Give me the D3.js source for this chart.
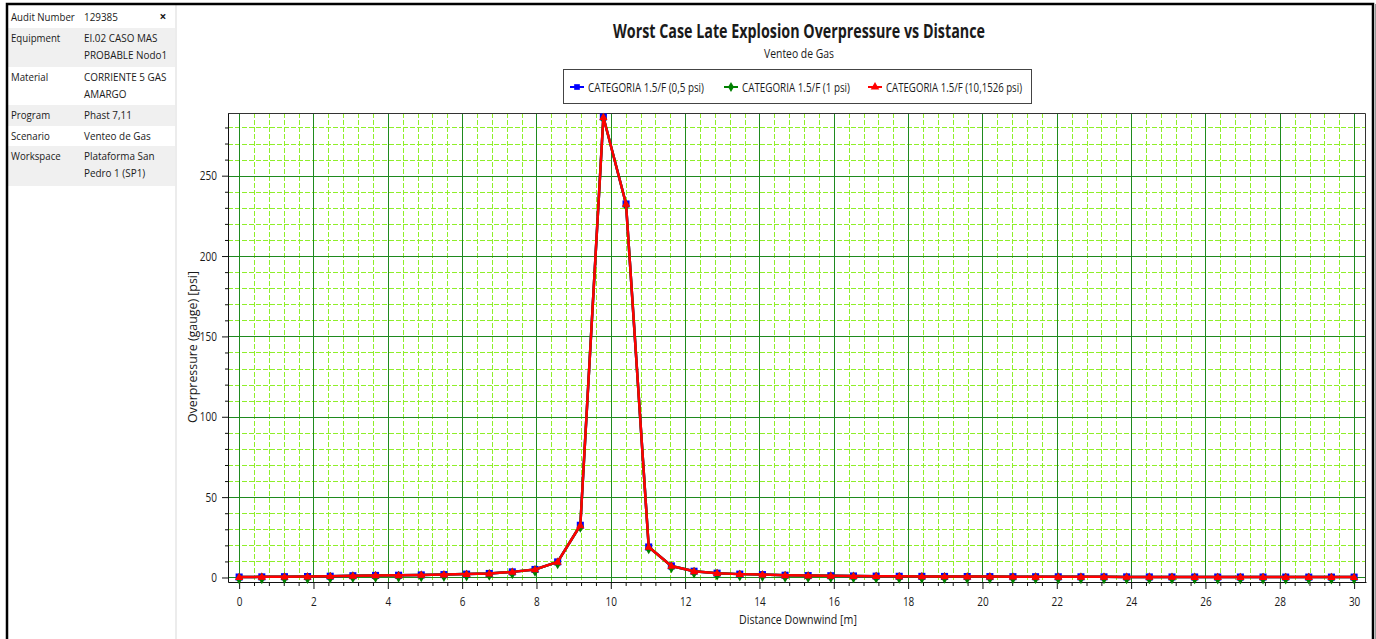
<!DOCTYPE html>
<html><head><meta charset="utf-8">
<script src="https://cdn.jsdelivr.net/npm/d3@7"></script>
<style>
body{margin:0;background:#fff;overflow:hidden}
svg{display:block}
text{font-family:"Open Sans","Noto Sans",sans-serif;fill:#1a1a1a}
</style>
</head><body>
<svg id="c" width="1376" height="639"></svg>
<script>
// ---- data ----
const infoLabels = ["Audit Number","Equipment","Material","Program","Scenario","Workspace"];
const infoValues = [["129385"],["EI.02 CASO MAS","PROBABLE Nodo1"],["CORRIENTE 5 GAS","AMARGO"],["Phast 7,11"],["Venteo de Gas"],["Plataforma San","Pedro 1 (SP1)"]];
const titleText = "Worst Case Late Explosion Overpressure vs Distance";
const subtitleText = "Venteo de Gas";
const seriesNames = ["CATEGORIA 1.5/F (0,5 psi)","CATEGORIA 1.5/F (1 psi)","CATEGORIA 1.5/F (10,1526 psi)"];
const distances = [0,0.61,1.22,1.84,2.45,3.06,3.67,4.29,4.90,5.51,6.12,6.73,7.35,7.96,8.57,9.18,9.80,10.41,11.02,11.63,12.24,12.86,13.47,14.08,14.69,15.31,15.92,16.53,17.14,17.76,18.37,18.98,19.59,20.20,20.82,21.43,22.04,22.65,23.27,23.88,24.49,25.10,25.71,26.33,26.94,27.55,28.16,28.78,29.39,30.00];
const overpressureHalfPsi = [0.3,0.4,0.5,0.6,0.8,1.1,1.3,1.4,1.6,1.8,2.1,2.5,3.5,5.0,9.7,32.5,286.5,232.4,19.0,7.2,3.9,2.7,2.1,1.8,1.4,1.2,1.1,0.95,0.85,0.75,0.7,0.65,0.6,0.55,0.5,0.48,0.45,0.42,0.4,0.38,0.36,0.34,0.32,0.3,0.29,0.28,0.27,0.26,0.25,0.24];
const overpressureOnePsi = overpressureHalfPsi;
const overpressureTenPsi = overpressureHalfPsi;
const xMajorTicks = [0,2,4,6,8,10,12,14,16,18,20,22,24,26,28,30];
const yMajorTicks = [0,50,100,150,200,250];
const xTitle = "Distance Downwind [m]";
const yTitle = "Overpressure (gauge) [psi]";

// ---- setup ----
const svg = d3.select("#c");
const W = 1376, H = 639;
const plot = {left:228, top:113, right:1366, bottom:582};
const x = d3.scaleLinear().domain([-0.3, 30.32]).range([plot.left, plot.right]);
const y = d3.scaleLinear().domain([-2.8, 289]).range([plot.bottom, plot.top]);
const xMinor = d3.range(0, 30.01, 0.4).filter(v => Math.abs(v/2 - Math.round(v/2)) > 1e-6);
const yMinor = d3.range(0, 289, 10).filter(v => v % 50 !== 0);
const px = v => Math.round(v) + 0.5;

function condense(sel, factor){
  sel.each(function(){
    const len = this.getComputedTextLength();
    d3.select(this).attr("textLength", len*factor).attr("lengthAdjust","spacingAndGlyphs");
  });
}
function fitWidth(sel, w){
  sel.attr("textLength", w).attr("lengthAdjust","spacingAndGlyphs");
}

// ---- outer frame ----
svg.append("rect").attr("x",0).attr("y",0).attr("width",W).attr("height",H).attr("fill","#fff");
svg.append("line").attr("x1",176).attr("x2",176).attr("y1",5).attr("y2",H).attr("stroke","#ececec").attr("stroke-width",2);

// ---- info panel ----
const panel = svg.append("g");
const rowTops = [7, 28, 67, 105, 126, 146];
const rowHeights = [21, 39, 38, 21, 20, 40];
infoLabels.forEach((lab,i)=>{
  if (i % 2 === 1) {
    panel.append("rect").attr("x",8).attr("y",rowTops[i]).attr("width",167).attr("height",rowHeights[i]).attr("fill","#f0f0f0");
  }
  panel.append("text").attr("x",11).attr("y",rowTops[i]+14).attr("font-size",11.5).text(lab).call(condense,0.84);
  infoValues[i].forEach((v,j)=>{
    panel.append("text").attr("x",84).attr("y",rowTops[i]+14+j*17).attr("font-size",11.5).text(v).call(condense,0.86);
  });
});
panel.append("text").attr("x",163).attr("y",21).attr("font-size",12).attr("font-weight","bold").attr("text-anchor","middle").text("×");

// border
svg.append("path").attr("d",`M7,${H} V4 H1373 V${H}`).attr("fill","none").attr("stroke","#000").attr("stroke-width",2.5);
svg.append("line").attr("x1",1375.5).attr("x2",1375.5).attr("y1",4).attr("y2",H).attr("stroke","#999").attr("stroke-width",1);

// ---- titles ----
svg.append("text").attr("x",799).attr("y",38).attr("text-anchor","middle").attr("font-size",19).attr("font-weight","bold").text(titleText).call(fitWidth,372);
svg.append("text").attr("x",799).attr("y",58).attr("text-anchor","middle").attr("font-size",13.5).text(subtitleText).call(fitWidth,70);

// ---- legend ----
const colors = ["#0000ff","#008000","#ff0000"];
const symbols = [d3.symbolSquare, d3.symbolDiamond, d3.symbolTriangle];
const legend = svg.append("g");
legend.append("rect").attr("x",563.5).attr("y",69.5).attr("width",468).attr("height",34).attr("fill","#fff").attr("stroke","#444").attr("stroke-width",1);
const legX = [570, 724, 868];
const legW = [116, 108, 136];
seriesNames.forEach((n,i)=>{
  const g = legend.append("g").attr("transform",`translate(${legX[i]},87)`);
  g.append("line").attr("x1",0).attr("x2",14).attr("stroke",colors[i]).attr("stroke-width",2);
  g.append("path").attr("d",d3.symbol(symbols[i], i===1?30:32)()).attr("transform","translate(7,0)").attr("fill",colors[i]);
  g.append("text").attr("x",18).attr("y",4.5).attr("font-size",12.5).text(n).call(fitWidth,legW[i]);
});

// ---- grid ----
const grid = svg.append("g");
const minorColor = "#8fef2a", majorColor = "#1f8a1f";
grid.selectAll(".vmin").data(xMinor).join("line")
  .attr("x1",d=>px(x(d))).attr("x2",d=>px(x(d))).attr("y1",plot.top).attr("y2",plot.bottom)
  .attr("stroke",minorColor).attr("stroke-dasharray","5,2").attr("stroke-width",1);
grid.selectAll(".hmin").data(yMinor).join("line")
  .attr("x1",plot.left).attr("x2",plot.right).attr("y1",d=>px(y(d))).attr("y2",d=>px(y(d)))
  .attr("stroke",minorColor).attr("stroke-dasharray","5,2").attr("stroke-width",1);
grid.selectAll(".vmaj").data(xMajorTicks).join("line")
  .attr("x1",d=>px(x(d))).attr("x2",d=>px(x(d))).attr("y1",plot.top).attr("y2",plot.bottom)
  .attr("stroke",majorColor).attr("stroke-width",1);
grid.selectAll(".hmaj").data(yMajorTicks).join("line")
  .attr("x1",plot.left).attr("x2",plot.right).attr("y1",d=>px(y(d))).attr("y2",d=>px(y(d)))
  .attr("stroke",majorColor).attr("stroke-width",1);

// ---- axes ----
const axisFont = g => g.selectAll("text").attr("font-size",12.5).attr("fill","#222").style("font-family",'"Open Sans",sans-serif').call(condense,0.8);
const yAxis = svg.append("g").attr("transform",`translate(${plot.left},0)`)
  .call(d3.axisLeft(y).tickValues(yMajorTicks).tickSize(6).tickPadding(5).tickSizeOuter(0));
yAxis.call(axisFont);
svg.append("g").attr("transform",`translate(${plot.left},0)`)
  .call(d3.axisLeft(y).tickValues(yMinor).tickSize(3).tickFormat("").tickSizeOuter(0))
  .call(g=>g.select(".domain").remove());
const xAxis = svg.append("g").attr("transform",`translate(0,${plot.bottom})`)
  .call(d3.axisBottom(x).tickValues(xMajorTicks).tickSize(7).tickPadding(8).tickSizeOuter(0));
xAxis.call(axisFont);
svg.append("g").attr("transform",`translate(0,${plot.bottom})`)
  .call(d3.axisBottom(x).tickValues(xMinor).tickSize(4).tickFormat("").tickSizeOuter(0))
  .call(g=>g.select(".domain").remove());
svg.selectAll(".tick line, .domain").attr("stroke","#111");
// plot frame
svg.append("path").attr("d",`M${plot.left},${plot.top+0.5} H${plot.right-0.5} V${plot.bottom}`).attr("fill","none").attr("stroke","#333").attr("stroke-width",1);

// axis titles
svg.append("text").attr("x",798).attr("y",624).attr("text-anchor","middle").attr("font-size",12.5).text(xTitle).call(condense,0.85);
svg.append("text").attr("transform","translate(197,347) rotate(-90)").attr("text-anchor","middle").attr("font-size",12).text(yTitle).call(fitWidth,152);

// ---- series ----
const seriesData = [overpressureHalfPsi, overpressureOnePsi, overpressureTenPsi];
const line = d3.line().x((d,i)=>x(distances[i])).y(d=>y(d));
const sizes = [50, 40, 30];
const lineWidths = [2.5, 2.5, 2.5];
seriesData.forEach((vals,k)=>{
  const g = svg.append("g");
  g.append("path").datum(vals).attr("d",line).attr("fill","none").attr("stroke",colors[k]).attr("stroke-width",lineWidths[k]).attr("stroke-linejoin","round");
  g.selectAll("path.m").data(vals).join("path").attr("class","m")
    .attr("d",d3.symbol(symbols[k], sizes[k]))
    .attr("transform",(d,i)=>`translate(${x(distances[i])},${y(d)+(k===1?1.5:(k===2?0.5:0))})`)
    .attr("fill",colors[k]);
});
</script>
</body></html>
